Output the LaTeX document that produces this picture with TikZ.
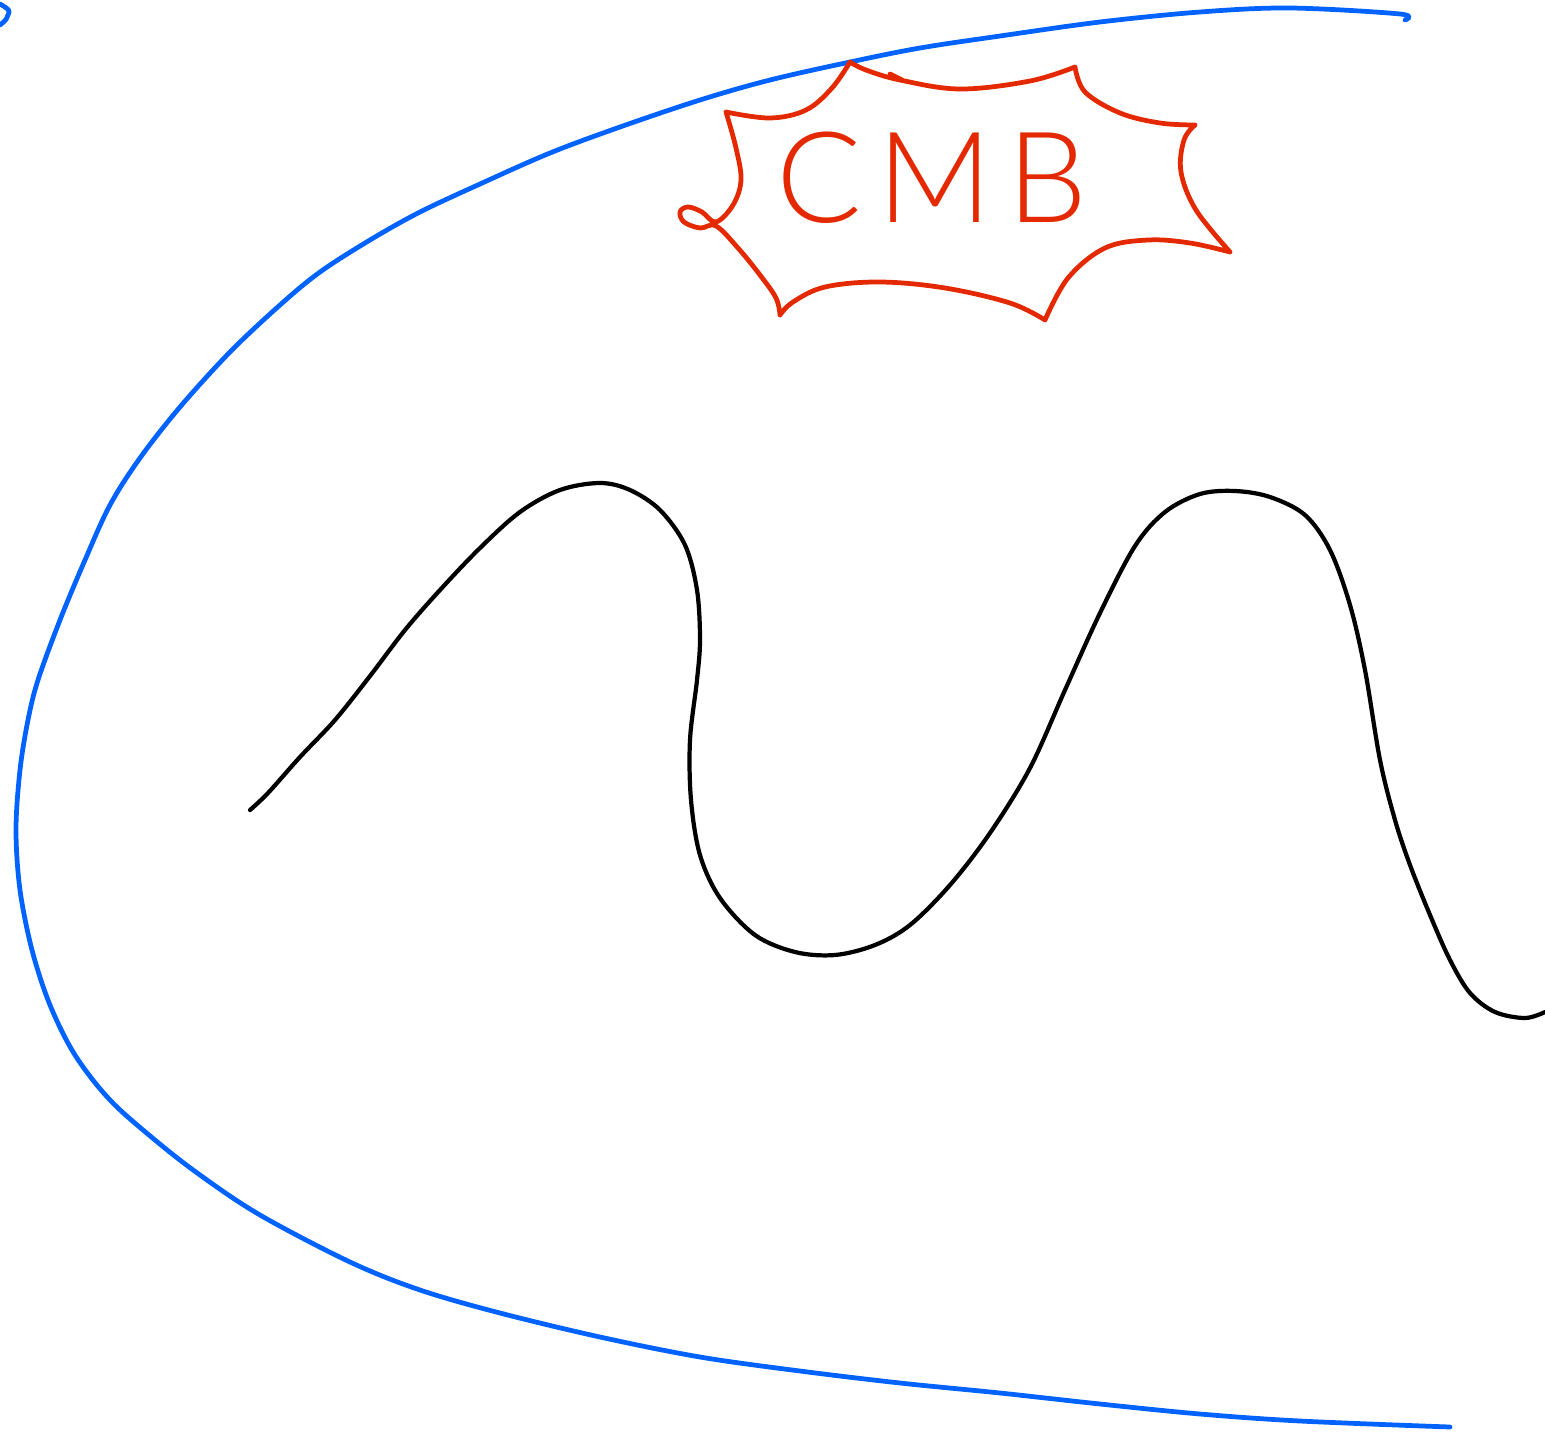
\documentclass[tikz,border=0pt]{standalone}
\usepackage{xcolor}
\usepackage{fontspec}
\usepackage{tikz}
\usetikzlibrary{positioning, calc}
\newfontfamily\cmbfont[LetterSpace=12]{Lato Light}
\definecolor{penblue}{RGB}{0,98,255}
\definecolor{penred}{RGB}{228,40,0}
\tikzstyle{bluestroke} = [draw=penblue, line width=1.35pt, line cap=round, line join=round]
\tikzstyle{redstroke} = [draw=penred, line width=1.35pt, line cap=round, line join=round]
\tikzstyle{blackstroke} = [draw=black, line width=1.2pt, line cap=round, line join=round]
\tikzstyle{cmbtext} = [text=penred, font=\cmbfont\fontsize{36}{36}\selectfont, inner sep=0pt]

\begin{document}
\begin{tikzpicture}[x=0.01cm, y=-0.01cm]

\useasboundingbox (0,0) rectangle (1545,1445);

% ===== OUTER BOUNDARY (BLUE) =====
\draw [bluestroke] (0,4) .. controls (10,10) .. (8,15) .. controls (6,20) .. (0,25);
\draw [bluestroke] plot[smooth, tension=0.55] coordinates {(1405,20) (1400,14) (1290,8) (1200,12) (1100,22) (1000,36) (920,48) (850,62) (770,80) (700,100) (620,127) (550,153) (480,184) (420,212) (370,240) (320,272) (280,305) (230,352) (180,407) (140,458) (110,505) (85,560) (60,620) (38,680) (28,720) (20,770) (16,830) (20,890) (32,950) (50,1005) (75,1055) (110,1100) (155,1140) (200,1175) (260,1215) (350,1262) (420,1290) (500,1313) (600,1337) (700,1357) (800,1371) (900,1383) (1000,1393) (1100,1404) (1200,1414) (1300,1421) (1450,1427)};

% ===== WAVY LINE (BLACK) =====
\draw [blackstroke] plot[smooth, tension=0.55] coordinates {(250,810) (268,793) (300,757) (335,720) (370,676) (405,630) (440,590) (480,548) (520,512) (560,490) (600,483) (630,490) (660,510) (685,545) (697,590) (700,640) (697,680) (690,740) (691,800) (700,855) (720,898) (755,935) (795,952) (835,955) (875,945) (910,925) (950,885) (990,833) (1030,768) (1065,690) (1100,613) (1135,546) (1165,512) (1200,494) (1235,491) (1270,497) (1305,515) (1330,550) (1350,605) (1365,670) (1380,760) (1395,820) (1410,865) (1430,915) (1450,960) (1470,993) (1495,1012) (1525,1018) (1545,1012)};

% ===== BURST (RED) =====
\draw [redstroke] plot[smooth, tension=0.6] coordinates {(780,315) (776,298) (760,275) (738,248) (716,226) (700,228) (684,222) (680,212) (688,207) (702,212) (716,222) (733,205) (741,180) (736,148) (726,112)}
  plot[smooth, tension=0.6] coordinates {(726,112) (770,118) (806,110) (832,88) (850,62)}
  plot[smooth, tension=0.6] coordinates {(850,62) (866,70) (900,80) (960,89) (1030,81) (1075,67)}
  plot[smooth, tension=0.6] coordinates {(1075,67) (1085,92) (1120,113) (1160,123) (1195,125)}
  plot[smooth, tension=0.6] coordinates {(1195,125) (1184,140) (1181,172) (1196,210) (1230,252)}
  plot[smooth, tension=0.6] coordinates {(1230,252) (1190,243) (1148,240) (1105,248) (1068,278) (1045,320)}
  plot[smooth, tension=0.6] coordinates {(1045,320) (1010,303) (945,288) (880,282) (825,287) (793,302) (780,315)};
\draw [redstroke] (890,74) -- (902,80);

% ===== TEXT =====
\node (cmb) [cmbtext] at (932,178) {CMB};

\end{tikzpicture}
\end{document}
